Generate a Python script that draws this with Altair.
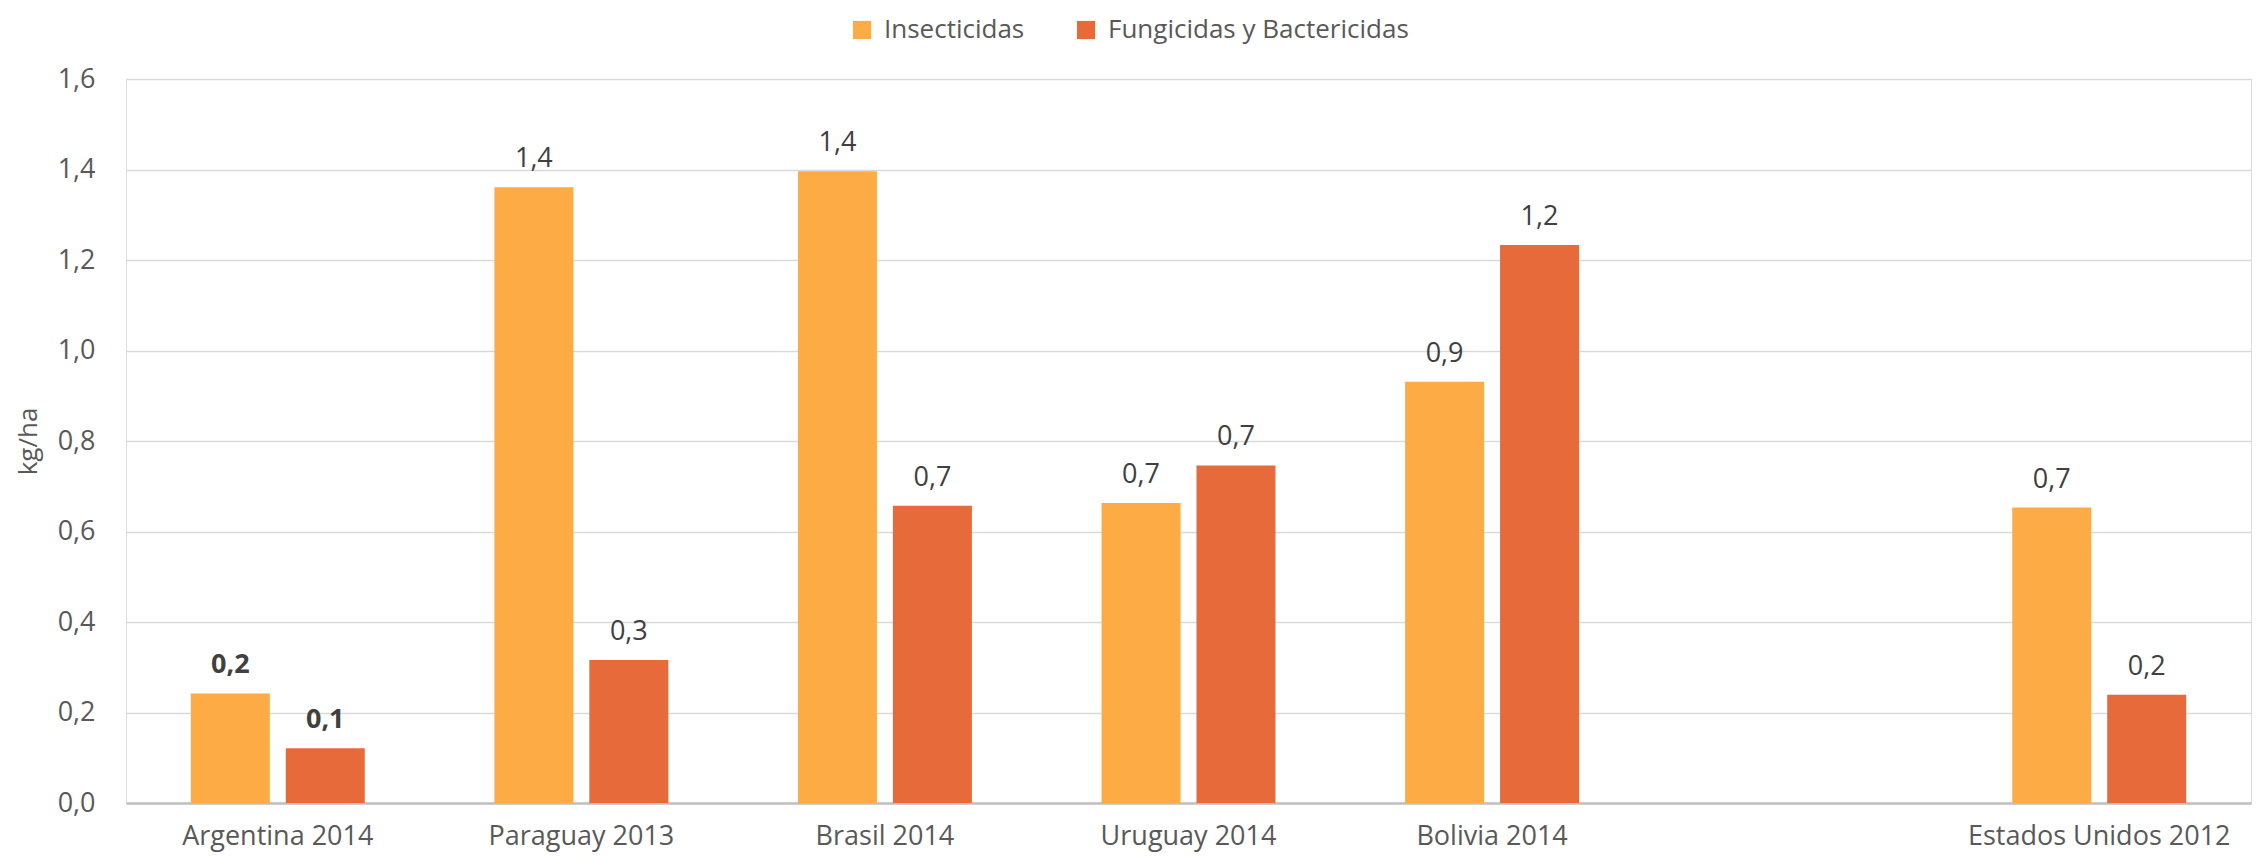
import altair as alt
import pandas as pd

countries = ["Argentina 2014", "Paraguay 2013", "Brasil 2014", "Uruguay 2014",
             "Bolivia 2014", " ", "Estados Unidos 2012"]
series = ["Insecticidas", "Fungicidas y Bactericidas"]
insecticidas = [0.242, 1.361, 1.396, 0.663, 0.931, None, 0.653]
fungicidas = [0.121, 0.316, 0.657, 0.746, 1.233, None, 0.239]
colors = ["#FDAC45", "#E66A3A"]
y_ticks = [0.0, 0.2, 0.4, 0.6, 0.8, 1.0, 1.2, 1.4, 1.6]
bold_country = "Argentina 2014"

rows = []
for c, a, b in zip(countries, insecticidas, fungicidas):
    for s, v in zip(series, [a, b]):
        if v is not None:
            rows.append({"pais": c, "serie": s, "valor": v,
                         "etiqueta": f"{v:.1f}".replace(".", ",")})
df = pd.DataFrame(rows)

FONT = "Open Sans"

x = alt.X("pais:N", sort=countries, scale=alt.Scale(domain=countries, paddingInner=0.427, paddingOuter=0.2135),
          axis=alt.Axis(title=None, labelAngle=0, labelFontSize=27, labelColor="#595959", labelFont=FONT,
                        labelPadding=20, labelLimit=0, ticks=False, domain=True, domainColor="#BFBFBF",
                        domainWidth=2.5, grid=False))
xo = alt.XOffset("serie:N", sort=series, scale=alt.Scale(domain=series, paddingInner=0.168))
y = alt.Y("valor:Q", scale=alt.Scale(domain=[0, 1.6], nice=False),
          axis=alt.Axis(title="kg/ha", values=y_ticks, labelExpr="replace(format(datum.value, '.1f'), '.', ',')",
                        labelFontSize=27, labelColor="#595959", labelFont=FONT, labelPadding=31,
                        titleFontSize=26, titleFont=FONT, titleColor="#595959", titleFontWeight="normal",
                        titlePadding=16, ticks=False, domain=False, grid=True, gridColor="#D9D9D9",
                        gridWidth=1.5))

bars = alt.Chart(df).mark_bar().encode(
    x=x, xOffset=xo, y=y,
    color=alt.Color("serie:N", sort=series, scale=alt.Scale(domain=series, range=colors),
                    legend=alt.Legend(title=None, orient="none", legendX=723, legendY=-62, direction="horizontal",
                                      symbolType="square", symbolSize=330, symbolStrokeWidth=0,
                                      labelFontSize=26, labelFont=FONT, labelColor="#595959",
                                      labelLimit=0, labelOffset=9, columnPadding=48)),
)

labels_normal = alt.Chart(df).transform_filter(alt.datum.pais != bold_country).mark_text(
    baseline="alphabetic", dy=-20, fontSize=27, font=FONT, color="#404040").encode(
    x=x, xOffset=xo, y=y, text="etiqueta:N")

labels_bold = alt.Chart(df).transform_filter(alt.datum.pais == bold_country).mark_text(
    baseline="alphabetic", dy=-20, fontSize=27, font=FONT, color="#404040", fontWeight="bold").encode(
    x=x, xOffset=xo, y=y, text="etiqueta:N")

chart = (bars + labels_normal + labels_bold).properties(
    width=2125, height=724,
    autosize=alt.AutoSizeParams(type="none"),
    padding={"left": 118, "top": 71, "right": 1, "bottom": 50},
).configure_view(stroke=None).configure(background="white")

chart.save("out.html", embed_options={"renderer": "svg", "actions": False})
